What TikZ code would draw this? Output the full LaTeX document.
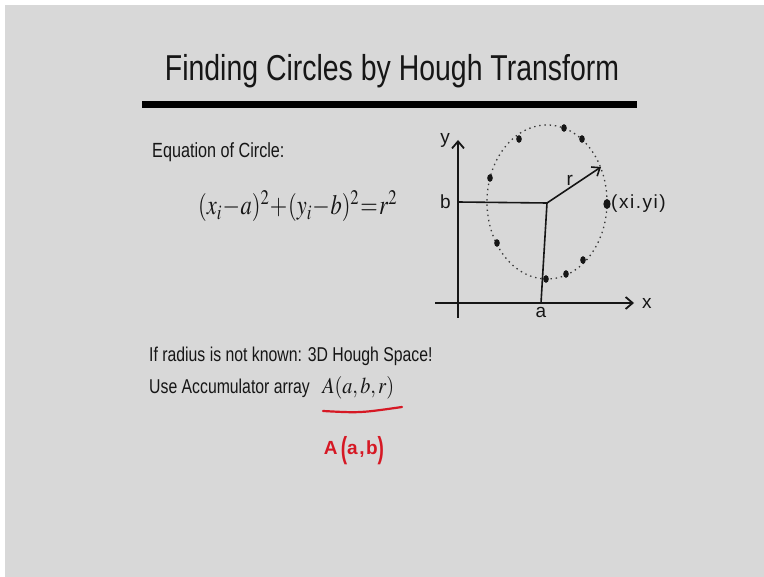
\documentclass[tikz,border=0pt]{standalone}
\usepackage{mathptmx}
\usepackage[no-math]{fontspec}
\setmainfont[FakeStretch=0.79]{Liberation Sans}
\newfontfamily\handfont[LetterSpace=8]{Liberation Sans}
\usepackage{xcolor}
\usetikzlibrary{arrows.meta, positioning}
\definecolor{slidegray}{RGB}{216, 216, 216}
\definecolor{inkdark}{RGB}{22, 22, 22}
\definecolor{penred}{RGB}{214, 24, 36}
\tikzset{
    txt/.style  ={anchor=base west, inner sep=0pt, text=inkdark,
                  font=\fontsize{20}{24}\selectfont},
    eqn/.style  ={anchor=base west, inner sep=0pt, text=inkdark,
                  font=\fontsize{24}{28}\selectfont},
    hand/.style ={inner sep=1pt, text=inkdark,
                  font=\handfont\fontsize{19}{22}\selectfont},
    axis/.style ={draw=inkdark, line width=1.8pt,
                  -{Straight Barb[length=7pt, width=12pt]}},
    pen/.style  ={draw=inkdark, line width=1.6pt},
    ring/.style ={draw=inkdark!85, line width=1.3pt, dash pattern=on 1.4pt off 3.8pt},
    redpen/.style={draw=penred, line width=2.2pt, line cap=round}
}

\begin{document}
\begin{tikzpicture}[x=1pt, y=-1pt]
  % slide
  \fill[white] (0,0) rectangle (764,577);
  \fill[slidegray] (5,5) rectangle (764,577);
  \useasboundingbox (0,0) rectangle (764,577);

  % title
  \node[anchor=base, inner sep=0pt, text=inkdark, font=\fontsize{36}{40}\selectfont]
    (title) at (392,81) {Finding Circles by Hough Transform};
  \fill[black] (142,101) rectangle (637,108);

  % left column
  \node[txt, font=\fontsize{20.5}{24}\selectfont] (eqlbl) at (152,158) {Equation of Circle:};
  \node[eqn] (circ) at (198,215)
    {\resizebox{199pt}{24pt}{$\medmuskip=0.5mu\thickmuskip=1mu (x_i-a)^2+(y_i-b)^2=r^2$}};
  \node[txt] (unknown) at (149,362) {If radius is not known: 3D Hough Space!};
  \node[txt] (accum) at (149,394) {Use Accumulator array};
  \node[eqn] (arr)
    at ([xshift=12pt]accum.base east) {\resizebox{72pt}{17pt}{$A(a,b,r)$}};

  % red pen
  \coordinate (ul1) at (323,411);
  \coordinate (ul2) at (402,407);
  \draw[redpen] (ul1) .. controls (360,413) .. (ul2);
  \node[inner sep=0pt, text=penred, font=\handfont\bfseries\fontsize{19}{22}\selectfont]
    (redab) at (354,451)
    {A\,\raisebox{-4pt}{\scalebox{1}[1.6]{(}}a,b\raisebox{-4pt}{\scalebox{1}[1.6]{)}}};

  % sketch: axes
  \coordinate (ybot) at (458,318);
  \coordinate (ytip) at (458,140);
  \coordinate (xtail) at (435,303);
  \coordinate (xtip) at (634,303);
  \draw[axis] (ybot) -- (ytip);
  \draw[axis] (xtail) -- (xtip);
  \node[hand, left=7pt of ytip] (ylbl) {y};
  \node[hand, right=7pt of xtip] (xlbl) {x};

  % sketch: centre, radius
  \coordinate (ctr) at (547,203);
  \coordinate (bpt) at (458,202);
  \coordinate (apt) at (541,303);
  \coordinate (rtip) at (601,167);
  \draw[pen] (bpt) -- (ctr) -- (apt);
  \draw[pen, -{Straight Barb[length=7pt, width=11pt]}] (ctr) --
    node[hand, pos=0.42, above=1pt] (rlbl) {r} (rtip);
  \node[hand, left=6pt of bpt] (blbl) {b};
  \node[hand, below=3pt of apt] (albl) {a};

  % sketch: circle and edge points
  \draw[ring] (547,202) ellipse [x radius=60pt, y radius=77pt];
  \foreach \px/\py in {564/128, 582/139, 519/139, 490/178, 497/243,
                       546/279, 566/274, 583/260}
    \fill[inkdark] (\px,\py) ellipse [x radius=2.8pt, y radius=3.8pt];
  \coordinate (pt) at (607,204);
  \fill[inkdark] (pt) ellipse [x radius=3.6pt, y radius=5pt];
  \node[hand, right=3pt of pt] (ptlbl) {(xi.yi)};
\end{tikzpicture}
\end{document}
